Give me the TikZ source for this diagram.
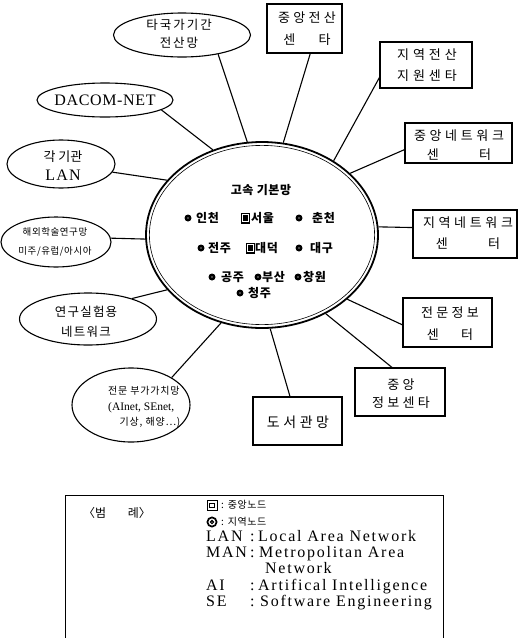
\documentclass[tikz,border=0pt]{standalone}
\usepackage{fontspec}
\setmainfont{Liberation Serif}
\newfontfamily\kr{Noto Sans CJK KR}
\usetikzlibrary{shapes.geometric}
\newcommand\regdot[1]{\fill (#1) circle[radius=3.5pt]; \fill[black!45] (#1) circle[radius=0.8pt];}
\newcommand\cenbox[1]{\fill (#1) ++(-4.5,-5.5) rectangle ++(9,11); \draw[white, line width=0.5pt] (#1) ++(-2.8,-3.6) rectangle ++(5.6,7.2);}
\tikzset{
  box/.style={draw, line width=1.1pt, rectangle, inner sep=0pt},
  oval/.style={draw, line width=1.1pt, ellipse, inner sep=0pt},
  conn/.style={line width=1.1pt},
  lbl/.style={align=center, inner sep=0pt, font=\kr\fontsize{13}{21}\selectfont\addfontfeature{LetterSpace=25}},
  hubt/.style={inner sep=0pt, font=\kr\bfseries\fontsize{12}{14}\selectfont\addfontfeature{LetterSpace=5}},
  lgk/.style={inner sep=0pt, anchor=west, text height=8pt, text depth=2pt, font=\kr\fontsize{10}{12}\selectfont\addfontfeature{LetterSpace=6}},
  lgl/.style={inner sep=0pt, anchor=west, text height=10.5pt, text depth=3pt, font=\fontsize{16}{18}\selectfont\addfontfeature{LetterSpace=11}}
}
\begin{document}
\begin{tikzpicture}[x=1pt, y=-1pt]
\useasboundingbox (0,0) rectangle (520,638);
\clip (0,0) rectangle (520,638);

% hub
\node[oval, line width=1.8pt, minimum width=232, minimum height=186] (hub) at (262,235) {};
\draw[line width=0.6pt] (hub.center) ellipse [x radius=112.6pt, y radius=89.6pt];
\node[hubt] (title) at (261,190) {고속 기본망};
\regdot{188,218} \node[hubt, anchor=west] (c1) at (196,218) {인천};
\cenbox{245,218} \node[hubt, anchor=west] (c2) at (251,218) {서울};
\regdot{299,218} \node[hubt, anchor=west] (c3) at (312,218) {춘천};
\regdot{201,248} \node[hubt, anchor=west] (c4) at (208,248) {전주};
\cenbox{250,248} \node[hubt, anchor=west] (c5) at (255,248) {대덕};
\regdot{299,248} \node[hubt, anchor=west] (c6) at (310,248) {대구};
\regdot{212,277} \node[hubt, anchor=west] (c7) at (221,277) {공주};
\regdot{258,277} \node[hubt, anchor=west] (c8) at (262,277) {부산};
\regdot{298,277} \node[hubt, anchor=west] (c9) at (303,277) {창원};
\regdot{240,293} \node[hubt, anchor=west] (c10) at (248,293) {청주};

% surrounding nodes
\node[oval, minimum width=137, minimum height=44] (n1) at (182,35) {};
\node[lbl, font=\kr\fontsize{12.5}{18}\selectfont\addfontfeature{LetterSpace=16}] (n1t) at (179,34) {타국가기간\\전산망};

\node[box, minimum width=75, minimum height=49] (n2) at (304.5,28.5) {};
\node[lbl, font=\kr\fontsize{13}{22}\selectfont\addfontfeature{LetterSpace=25}] (n2t) at (307,29) {중앙전산\\센\hspace{1.8em}타};

\node[box, minimum width=92, minimum height=46] (n3) at (426,65) {};
\node[lbl, font=\kr\fontsize{13}{21}\selectfont\addfontfeature{LetterSpace=30}] (n3t) at (427,65.5) {지역전산\\지원센타};

\node[box, minimum width=107, minimum height=40] (n4) at (458.5,143) {};
\node[lbl, font=\kr\fontsize{13}{19}\selectfont\addfontfeature{LetterSpace=28}] (n4t) at (459,145.5) {중앙네트워크\\센\hspace{3.1em}터};

\node[box, minimum width=104, minimum height=48] (n5) at (465,234) {};
\node[lbl, font=\kr\fontsize{13}{21}\selectfont\addfontfeature{LetterSpace=28}] (n5t) at (468,233) {지역네트워크\\센\hspace{3.1em}터};

\node[oval, minimum width=136, minimum height=34] (n6) at (105,100) {};
\node[inner sep=0pt, font=\fontsize{16}{18}\selectfont\addfontfeature{LetterSpace=4}] (n6t) at (105,100) {DACOM-NET};

\node[oval, minimum width=108, minimum height=48] (n7) at (61,164) {};
\node[align=center, inner sep=0pt, font=\fontsize{16}{19}\selectfont\addfontfeature{LetterSpace=8}] (n7t) at (63,166) {{\kr\fontsize{13}{19}\selectfont 각 기관}\\LAN};

\node[oval, minimum width=110, minimum height=50] (n8) at (56,242) {};
\node[lbl, font=\kr\fontsize{9.5}{19}\selectfont\addfontfeature{LetterSpace=6}] (n8t) at (55,242) {해외학술연구망\\미주/유럽/아시아};

\node[oval, minimum width=137, minimum height=52] (n9) at (88,319) {};
\node[lbl, font=\kr\fontsize{12.5}{20}\selectfont\addfontfeature{LetterSpace=10}] (n9t) at (86,322) {연구실험용\\네트워크};

\node[oval, minimum width=118, minimum height=74] (n10) at (131,405) {};
\node[align=left, inner sep=0pt, anchor=west, font=\fontsize{11.5}{15.5}\selectfont] (n10t) at (108,407) {{\kr\fontsize{10}{15.5}\selectfont\addfontfeature{LetterSpace=8}전문 부가가치망}\\(AInet, SEnet,\\\hspace{1em}{\kr\fontsize{10}{15.5}\selectfont\addfontfeature{LetterSpace=8}기상, 해양…)}};

\node[box, minimum width=89, minimum height=48] (n11) at (297.5,421) {};
\node[lbl, font=\kr\fontsize{14}{20}\selectfont\addfontfeature{LetterSpace=25}] (n11t) at (298,422) {도서관망};

\node[box, minimum width=90, minimum height=48] (n12) at (400,392) {};
\node[lbl, font=\kr\fontsize{13}{18}\selectfont\addfontfeature{LetterSpace=25}] (n12t) at (401,394) {중앙\\정보센타};

\node[box, minimum width=89, minimum height=49] (n13) at (447.5,322.5) {};
\node[lbl, font=\kr\fontsize{13}{22}\selectfont\addfontfeature{LetterSpace=25}] (n13t) at (450,324) {전문정보\\센\hspace{1.7em}터};

% connectors
\draw[conn] (n1.-28) -- (hub.99);
\draw[conn] (n2.-77) -- (hub.77);
\draw[conn] (n3.195) -- (hub.46);
\draw[conn] (n4.187) -- (hub.35);
\draw[conn] (n5.173) -- (hub.4);
\draw[conn] (n6.-10) -- (hub.120);
\draw[conn] (n7.-9) -- (hub.150);
\draw[conn] (n8.4) -- (hub.182);
\draw[conn] (n9.25) -- (hub.210);
\draw[conn] (n10.34) -- (hub.245);
\draw[conn] (n11.107) -- (hub.275);
\draw[conn] (n12.108) -- (hub.309);
\draw[conn] (n13.183) -- (hub.323);

% legend
\node[draw, line width=1pt, minimum width=378, minimum height=170, anchor=north west, inner sep=0pt] (legend) at (65,495) {};
\node[inner sep=0pt, font=\kr\fontsize{12}{14}\selectfont] (lg) at (117,513) {〈범\hspace{1.8em}례〉};
\draw[line width=0.8pt] (207,500) rectangle (217,510);
\draw[line width=0.8pt] (209.5,503) rectangle (214.5,507);
\draw[line width=1.7pt] (212,522) circle[radius=4.6pt];
\draw[line width=1.2pt] (212,522) circle[radius=1.6pt];
\node[lgk] (l1) at (221,505) {: 중앙노드};
\node[lgk] (l2) at (221,522) {: 지역노드};
\node[lgl] (l3a) at (206,538) {LAN};
\node[lgl] (l3b) at (250,538) {:};
\node[lgl] (l3c) at (258,538) {Local Area Network};
\node[lgl] (l4a) at (206,554) {MAN};
\node[lgl] (l4b) at (250,554) {:};
\node[lgl] (l4c) at (259,554) {Metropolitan Area};
\node[lgl] (l5c) at (265,570) {Network};
\node[lgl] (l6a) at (206,587) {AI};
\node[lgl] (l6b) at (250,587) {:};
\node[lgl] (l6c) at (258,587) {Artifical Intelligence};
\node[lgl] (l7a) at (206,603) {SE};
\node[lgl] (l7b) at (250,603) {:};
\node[lgl] (l7c) at (260,603) {Software Engineering};
\end{tikzpicture}
\end{document}
